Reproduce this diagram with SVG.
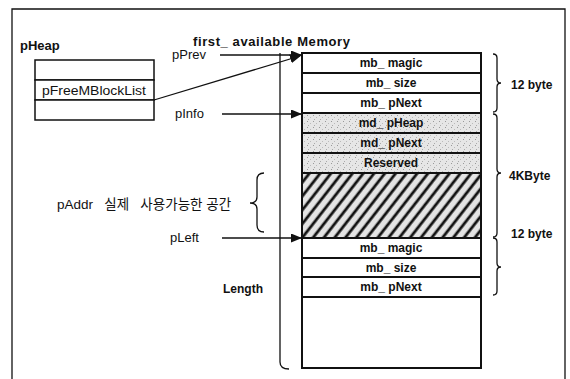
<svg xmlns="http://www.w3.org/2000/svg" width="570" height="379" viewBox="0 0 570 379">
<defs>
<style>
.ln{stroke:#111;stroke-width:1.3;fill:none}
.box{stroke:#111;stroke-width:1.5;fill:#fff}
.row{stroke:#111;stroke-width:2;fill:#fff}
.shd{stroke:#111;stroke-width:2;fill:url(#dots)}
.br{stroke:#111;stroke-width:1.3;fill:none}
.t{font-family:"Liberation Sans",Arial,"Noto Sans CJK KR",sans-serif;fill:#111}
.b{font-weight:bold}
.c{text-anchor:middle}
.m{font-size:12px;font-weight:bold}
</style>
<pattern id="dots" patternUnits="userSpaceOnUse" width="6" height="6">
<rect width="6" height="6" fill="#e6e6e6"/>
<rect x="1" y="1" width="1" height="1" fill="#999"/>
<rect x="4" y="3" width="1" height="1" fill="#bbb"/>
<rect x="2" y="5" width="1" height="1" fill="#aaa"/>
</pattern>
<pattern id="hatch" patternUnits="userSpaceOnUse" width="8.5" height="8.5" patternTransform="rotate(38)">
<rect width="8.5" height="8.5" fill="#e4e4e4"/>
<line x1="2" y1="0" x2="2" y2="8.5" stroke="#111" stroke-width="2.8"/>
</pattern>
<marker id="ah" markerWidth="11" markerHeight="9" refX="10" refY="4.5" orient="auto" markerUnits="userSpaceOnUse">
<path d="M0,0 L11,4.5 L0,9 Z" fill="#111"/>
</marker>
</defs>
<rect width="570" height="379" fill="#fff"/>
<g id="frame"><path class="ln" d="M12,385 V9 H565 V385" stroke-width="1.6"/></g>

<g id="pHeap">
<text class="t b" x="20" y="50" font-size="13">pHeap</text>
<rect class="box" x="35" y="60" width="119" height="20"/>
<rect class="box" x="35" y="80" width="119" height="20"/>
<rect class="box" x="35" y="100" width="119" height="20"/>
<text class="t c" x="94" y="95" font-size="12" textLength="104" lengthAdjust="spacingAndGlyphs">pFreeMBlockList</text>
</g>

<g id="title"><text class="t b" x="193" y="46" font-size="13" textLength="157" lengthAdjust="spacing">first_ available Memory</text></g>

<g id="memory">
<rect class="row" x="302" y="53" width="179" height="20"/>
<rect class="row" x="302" y="73" width="179" height="20"/>
<rect class="row" x="302" y="93" width="179" height="20"/>
<rect class="shd" x="302" y="113" width="179" height="20"/>
<rect class="shd" x="302" y="133" width="179" height="20"/>
<rect class="shd" x="302" y="153" width="179" height="20"/>
<rect class="row" x="302" y="173" width="179" height="65" style="fill:url(#hatch)"/>
<rect class="row" x="302" y="238" width="179" height="20"/>
<rect class="row" x="302" y="258" width="179" height="19"/>
<rect class="row" x="302" y="277" width="179" height="20"/>
<rect class="row" x="302" y="297" width="179" height="71"/>
<text class="t c m" x="391" y="67">mb_ magic</text>
<text class="t c m" x="391" y="87">mb_ size</text>
<text class="t c m" x="391" y="107">mb_ pNext</text>
<text class="t c m" x="391" y="127">md_ pHeap</text>
<text class="t c m" x="391" y="147">md_ pNext</text>
<text class="t c m" x="391" y="167">Reserved</text>
<text class="t c m" x="391" y="252">mb_ magic</text>
<text class="t c m" x="391" y="272">mb_ size</text>
<text class="t c m" x="391" y="291">mb_ pNext</text>
</g>

<g id="labels">
<text class="t" x="172" y="59" font-size="13">pPrev</text>
<text class="t" x="175" y="118" font-size="13">pInfo</text>
<text class="t" x="170" y="242" font-size="13">pLeft</text>
<text class="t" x="57" y="209" font-size="13.5" xml:space="preserve">pAddr   실제   사용가능한 공간</text>
<text class="t b" x="223" y="293" font-size="12">Length</text>
<text class="t b" x="511" y="89" font-size="12">12 byte</text>
<text class="t b" x="509" y="180" font-size="12">4KByte</text>
<text class="t b" x="511" y="238" font-size="12">12 byte</text>
</g>

<g id="connectors">
<line class="ln" x1="220" y1="55" x2="301" y2="55" marker-end="url(#ah)" stroke-width="1.6"/>
<line class="ln" x1="154" y1="100" x2="300" y2="56" marker-end="url(#ah)" stroke-width="1.8"/>
<line class="ln" x1="222" y1="114" x2="301" y2="114" marker-end="url(#ah)" stroke-width="1.6"/>
<line class="ln" x1="222" y1="238" x2="301" y2="238" marker-end="url(#ah)" stroke-width="1.6"/>
</g>

<g id="braces">
<path class="br" d="M493,54 Q497,54 497,58 V79 Q497,83 501,83 Q497,83 497,87 V108 Q497,112 493,112"/>
<path class="br" d="M493,114 Q497,114 497,118 V169 Q497,173 501,173 Q497,173 497,177 V233 Q497,237 493,237"/>
<path class="br" d="M493,238 Q497,238 497,242 V263 Q497,267 501,267 Q497,267 497,271 V291 Q497,295 493,295"/>
<path class="br" d="M264,173 Q257,173 257,180 V197 Q257,203 250,203 Q257,203 257,209 V225 Q257,232 264,232"/>
<path class="br" d="M280,53 V362 Q280,369 289,369"/>
</g>
</svg>
